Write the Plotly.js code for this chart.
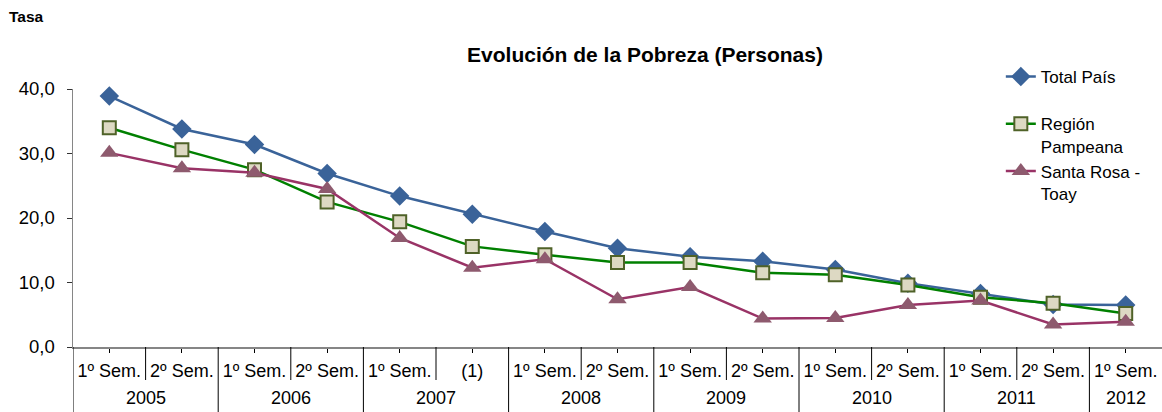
<!DOCTYPE html>
<html>
<head>
<meta charset="utf-8">
<script src="https://cdn.plot.ly/plotly-3.0.1.min.js"></script>
<style>html,body{margin:0;padding:0;background:#fff;}#chart{width:1162px;height:412px;}</style>
</head>
<body>
<div id="chart"></div>
<script>
const years = ["2005","2005","2006","2006","2007","2007","2008","2008","2009","2009","2010","2010","2011","2011","2012"];
const semesters = ["1º Sem.","2º Sem.","1º Sem.","2º Sem.","1º Sem.","(1)","1º Sem.","2º Sem.","1º Sem.","2º Sem.","1º Sem.","2º Sem.","1º Sem.","2º Sem.","1º Sem."];
const totalPais = [38.9, 33.8, 31.4, 26.9, 23.4, 20.6, 17.9, 15.3, 14.0, 13.3, 12.0, 9.9, 8.3, 6.6, 6.5];
const regionPampeana = [34.0, 30.6, 27.5, 22.5, 19.4, 15.6, 14.3, 13.1, 13.1, 11.5, 11.2, 9.6, 7.7, 6.8, 5.2];
const santaRosaToay = [30.1, 27.7, 27.0, 24.5, 16.9, 12.3, 13.6, 7.4, 9.3, 4.4, 4.5, 6.5, 7.2, 3.5, 3.9];
const seriesNames = ["Total País", "Región<br>Pampeana", "Santa Rosa -<br>Toay"];

const xs = semesters.map((_, i) => i);
const FONT = "Liberation Sans, Arial, sans-serif";

const traces = [
  {x: xs, y: totalPais, name: seriesNames[0] + "<br> ", mode: "lines+markers", cliponaxis: false,
   line: {color: "#3A6399", width: 2.5},
   marker: {symbol: "diamond", size: 15, color: "#3A6399"}},
  {x: xs, y: regionPampeana, name: seriesNames[1], mode: "lines+markers", cliponaxis: false,
   line: {color: "#008000", width: 2.5},
   marker: {symbol: "square", size: 13, color: "#DDD9C3", line: {color: "#4F6228", width: 2}}},
  {x: xs, y: santaRosaToay, name: seriesNames[2], mode: "lines+markers", cliponaxis: false,
   line: {color: "#993366", width: 2.5},
   marker: {symbol: "triangle-up", size: 16, color: "#8E5A6E"}}
];

const shapes = [];
const annotations = [];
const plotH = 258;
const shortY = -33 / plotH, longY = -65 / plotH;
for (let i = 0; i <= xs.length - 1; i++) {
  const newYear = (i === 0) || years[i] !== years[i - 1];
  shapes.push({type: "line", xref: "x", yref: "paper", x0: i - 0.5, x1: i - 0.5, y0: 0, y1: newYear ? longY : shortY,
               line: {color: "#000", width: 1}});
}
const uniqYears = [...new Set(years)];
uniqYears.forEach(yr => {
  const idx = xs.filter(i => years[i] === yr);
  const c = (idx[0] + idx[idx.length - 1]) / 2;
  annotations.push({text: yr, xref: "x", yref: "paper", x: c, y: -51 / plotH, yanchor: "middle",
                    showarrow: false, font: {family: FONT, size: 18, color: "#000"}});
});
annotations.push({text: "<b>Tasa</b>", xref: "paper", yref: "paper", x: -66 / 1089, y: 330 / plotH,
                  xanchor: "left", yanchor: "middle", showarrow: false, font: {family: FONT, size: 15.5, color: "#000"}});

const layout = {
  width: 1162, height: 412,
  margin: {l: 73, r: 0, t: 89, b: 65},
  paper_bgcolor: "#fff", plot_bgcolor: "#fff",
  separators: ",.",
  font: {family: FONT, color: "#000"},
  title: {text: "<b>Evolución de la Pobreza (Personas)</b>", x: 645 / 1162, xanchor: "center",
          y: 1 - 55 / 412, yanchor: "middle", font: {family: FONT, size: 21, color: "#000"}},
  xaxis: {range: [-0.5, 14.5], tickvals: xs, ticktext: semesters, ticks: "outside", ticklen: 4,
          tickcolor: "#000", showline: true, linecolor: "#868686", linewidth: 1.5, showgrid: false,
          zeroline: false, tickfont: {family: FONT, size: 18, color: "#000"}, ticklabelstandoff: 3},
  yaxis: {range: [0, 40], dtick: 10, tickformat: ".1f", ticks: "outside", ticklen: 5, tickcolor: "#333",
          showline: true, linecolor: "#868686", linewidth: 1.5, showgrid: false, zeroline: false,
          tickfont: {family: FONT, size: 18.5, color: "#000"}, ticklabelstandoff: 8},
  showlegend: true,
  legend: {x: 0.852, xanchor: "left", y: 1.116, yanchor: "top", valign: "top", tracegroupgap: 0,
           font: {family: FONT, size: 17, color: "#000"}, bgcolor: "rgba(0,0,0,0)"},
  shapes: shapes,
  annotations: annotations
};

Plotly.newPlot("chart", traces, layout, {displayModeBar: false, staticPlot: true});
</script>
</body>
</html>
